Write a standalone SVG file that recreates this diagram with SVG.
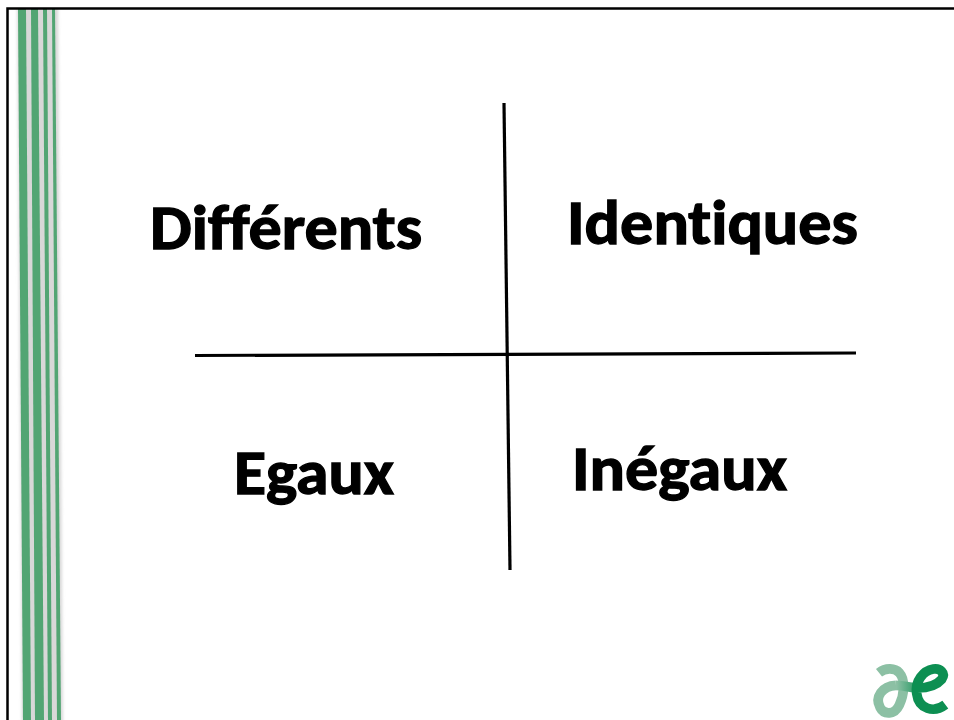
<svg xmlns="http://www.w3.org/2000/svg" width="954" height="720" viewBox="0 0 954 720">
<defs>
<style>
.lbl{font-family:"Carlito","Lato","Liberation Sans",sans-serif;font-weight:700;font-size:63px;fill:#000;stroke:#000;stroke-width:1.300;font-variant-ligatures:none}
.ln{stroke:#000;stroke-width:3.200;fill:none}
.s{fill:#52a573}
</style>
<filter id="b" x="-30%" y="-5%" width="160%" height="110%"><feGaussianBlur stdDeviation="1.500"/></filter>
<clipPath id="c"><rect x="0" y="9" width="100" height="711"/></clipPath>
<linearGradient id="g" gradientUnits="userSpaceOnUse" x1="110" x2="190" y1="0" y2="0"><stop offset="0" stop-color="#8cc0a4"/><stop offset="1" stop-color="#0d8f52"/></linearGradient>
</defs>
<rect width="954" height="720" fill="#fff"/>
<g id="stripes" clip-path="url(#c)">
<polygon fill="#d8d8d8" filter="url(#b)" points="17,-5 58,-5 63,730 22,730"/>
<polygon class="s" points="18,9 26,9 31,720 23,720"/>
<polygon class="s" points="31,9 38,9 44,720 35,720"/>
<polygon class="s" points="43,9 47,9 52,720 48,720"/>
<polygon class="s" points="52,9 55,9 61,720 57,720"/>
</g>
<g id="frame"><path d="M954 8.500H7.500V720" fill="none" stroke="#000" stroke-width="2.500"/></g>
<g id="connectors">
<line class="ln" x1="504" y1="103" x2="510" y2="570"/>
<line class="ln" x1="195" y1="355.500" x2="856" y2="353"/>
</g>
<g id="node-differents"><text class="lbl" x="150" y="249" textLength="272" lengthAdjust="spacingAndGlyphs">Différents</text></g>
<g id="node-identiques"><text class="lbl" x="567" y="244" textLength="291" lengthAdjust="spacingAndGlyphs">Identiques</text></g>
<g id="node-egaux"><text class="lbl" x="234" y="494" textLength="160" lengthAdjust="spacingAndGlyphs">Egaux</text></g>
<g id="node-inegaux"><text class="lbl" x="572" y="490" textLength="215" lengthAdjust="spacingAndGlyphs">Inégaux</text></g>
<g id="logo" transform="translate(860 650) scale(.3333)" fill="none" stroke-width="29">
<path d="M57 68C77 52 105 54 118 68C138 90 132 135 118 165C104 195 72 196 60 172C44 142 66 108 108 106" stroke="#8cc0a4"/>
<path d="M108 106C135 106 150 114 172 114" stroke="url(#g)"/>
<path d="M172 114C200 114 228 108 245 88C258 68 240 54 220 57C190 62 165 92 170 130C176 178 222 190 256 164" stroke="#0d8f52"/>
</g>
</svg>
